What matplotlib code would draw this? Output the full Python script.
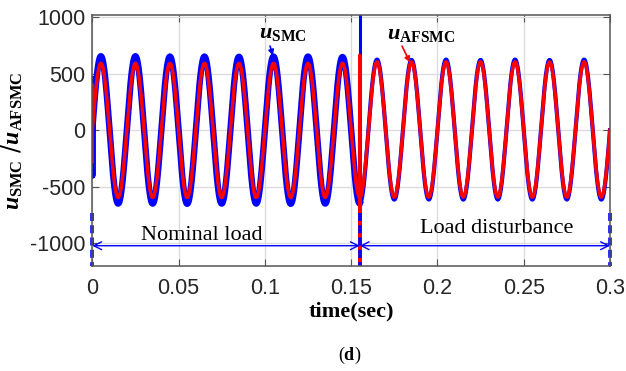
import numpy as np
import matplotlib.pyplot as plt

plt.rcParams['mathtext.fontset'] = 'custom'
plt.rcParams['mathtext.it'] = 'Liberation Serif:italic:bold'
plt.rcParams['mathtext.bf'] = 'Liberation Serif:bold'
plt.rcParams['mathtext.rm'] = 'Liberation Serif'
plt.rcParams['axes.unicode_minus'] = False

# signal: 50 Hz, amplitude of every half cycle
freq_hz = 50
t_end = 0.3
t_dist = 0.155
smc_peaks = [655, 655, 652, 652, 650, 652, 652, 648, 625, 622, 625, 622, 625, 622, 625]
smc_troughs = [-650, -650, -652, -650, -650, -652, -650, -650, -615, -614, -615, -614, -615, -614, -615]
afsmc_peaks = [592, 592, 592, 592, 592, 592, 592, 592, 605, 605, 605, 605, 605, 605, 605]
afsmc_troughs = [-596, -596, -596, -596, -596, -596, -596, -596, -593, -593, -593, -593, -593, -593, -593]
# start transient and spike at the load step
smc_start = [450, -400]
afsmc_start = [400, -280]
smc_spike = [1100, -650]
afsmc_spike = [664, -1250]
marker_times = [0, 0.155, 0.3]
marker_range = [-730, -1200]


def build(peaks, troughs, start):
    amp = np.ravel(np.column_stack([peaks, np.abs(troughs)]))
    t = np.linspace(0, t_end, 3001)
    half = np.minimum((t * 2 * freq_hz).astype(int), len(amp) - 1)
    u = amp[half] * np.sin(2 * np.pi * freq_hz * t)
    t = np.concatenate([[0, 0], t])
    u = np.concatenate([start, u])
    return t, u


t_smc, u_smc = build(smc_peaks, smc_troughs, smc_start)
t_af, u_af = build(afsmc_peaks, afsmc_troughs, afsmc_start)

fig = plt.figure(figsize=(6.26, 3.71), dpi=100)
ax = fig.add_axes([0.1474, 0.2838, 0.827, 0.6758])

before = t_smc <= t_dist
ax.plot(t_smc[before], u_smc[before], color='#0000ff', lw=4.6, solid_joinstyle='round')
ax.plot(t_smc[~before], u_smc[~before], color='#0000ff', lw=3.0, solid_joinstyle='round')
ax.plot([t_dist] * len(smc_spike), smc_spike, color='#0000ff', lw=2.2)

k = np.searchsorted(t_af, t_dist)
t_red = np.concatenate([t_af[:k], [t_dist] * len(afsmc_spike), t_af[k:]])
u_red = np.concatenate([u_af[:k], afsmc_spike, u_af[k:]])
ax.plot(t_red, u_red, color='#ff0000', lw=2.5)

for x in marker_times:
    ax.plot([x, x], marker_range, color='#0000ff', lw=2.6, ls=(0, (2.2, 1.2)), clip_on=False)

ax.annotate('', xy=(0, -1023), xytext=(t_dist, -1023),
            arrowprops=dict(arrowstyle='<->', color='#0000ff', lw=1, mutation_scale=14,
                            shrinkA=0, shrinkB=0))
ax.annotate('', xy=(t_dist, -1023), xytext=(t_end, -1023),
            arrowprops=dict(arrowstyle='<->', color='#0000ff', lw=1, mutation_scale=14,
                            shrinkA=0, shrinkB=0))

ax.text(0.0636, -973, 'Nominal load', family='Liberation Serif', fontsize=16,
        ha='center', va='baseline')
ax.text(0.2342, -910, 'Load disturbance', family='Liberation Serif', fontsize=16,
        ha='center', va='baseline')

ax.text(0.1105, 817, r'$u_{\mathbf{SMC}}$', fontsize=16, ha='center', va='baseline')
ax.annotate('', xy=(0.1047, 660), xytext=(0.103, 745),
            arrowprops=dict(arrowstyle='-|>', color='#0000ff', lw=1.2, mutation_scale=8,
                            shrinkA=0, shrinkB=0))
ax.text(0.1908, 808, r'$u_{\mathbf{AFSMC}}$', fontsize=16, ha='center', va='baseline')
ax.annotate('', xy=(0.1841, 600), xytext=(0.1795, 745),
            arrowprops=dict(arrowstyle='-|>', color='#ff0000', lw=1.2, mutation_scale=8,
                            shrinkA=0, shrinkB=0))

ax.set_xlim(0, t_end)
ax.set_ylim(-1200, 1020)
ax.set_xticks([0, 0.05, 0.1, 0.15, 0.2, 0.25, 0.3])
ax.set_xticklabels(['0', '0.05', '0.1', '0.15', '0.2', '0.25', '0.3'])
ax.set_yticks([-1000, -500, 0, 500, 1000])
ax.grid(color='#dcdcdc', lw=1)
ax.set_axisbelow(True)
ax.tick_params(direction='in', top=True, right=True, length=5, color='#555555',
               labelsize=15.5, labelcolor='#262626')
ax.tick_params(axis='x', pad=9)
ax.tick_params(axis='y', pad=5)
for lab in ax.get_xticklabels() + ax.get_yticklabels():
    lab.set_family('Liberation Sans')
for s in ax.spines.values():
    s.set_color('#555555')
    s.set_linewidth(1.1)

ax.set_xlabel('time(sec)', family='Liberation Serif', fontweight='bold', fontsize=16)
ax.xaxis.set_label_coords(0.5, -0.144)
ax.set_ylabel(r'$u_{\mathbf{SMC}}$ /$u_{\mathbf{AFSMC}}$', fontsize=17)
ax.yaxis.set_label_coords(-0.13, 0.5)

fig.text(350 / 626, 1 - 355 / 371, r'$\mathrm{(}\mathbf{d}\mathrm{)}$', fontsize=13,
         ha='center', va='center')

fig.savefig('out.png', dpi=100)
